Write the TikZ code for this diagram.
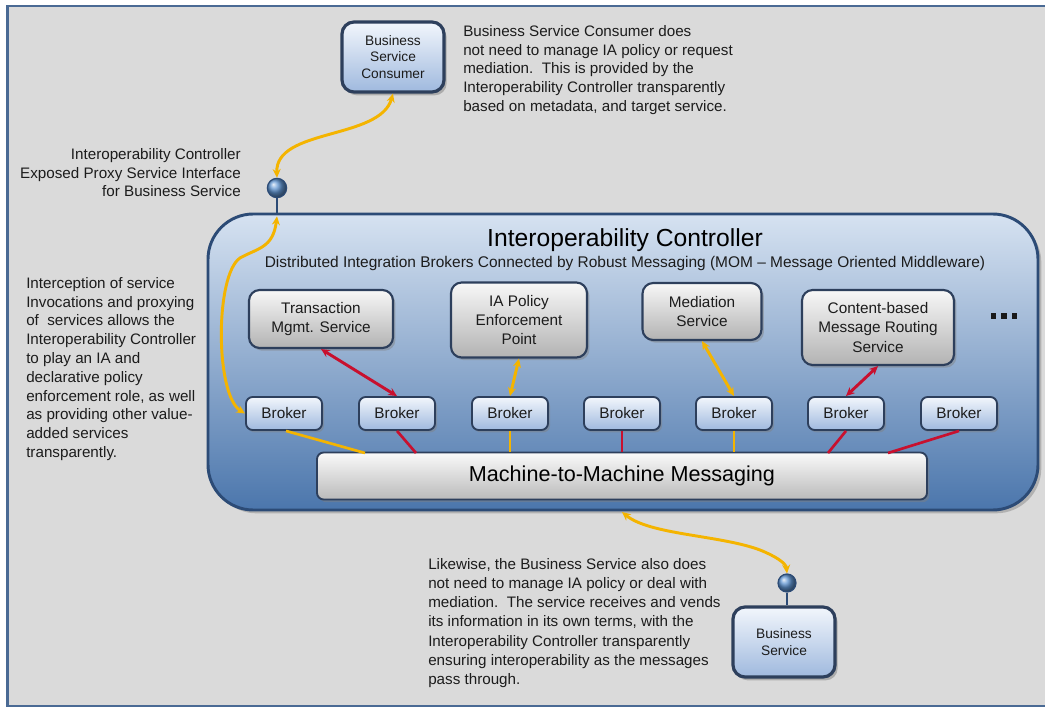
\documentclass[tikz,border=0pt]{standalone}
\usepackage{fontspec}
\setmainfont{Liberation Sans}
\usetikzlibrary{arrows.meta,shadows}

\definecolor{pagebg}{HTML}{DADADA}
\definecolor{framec}{HTML}{4A6A94}
\definecolor{ctrltop}{HTML}{D6E2F1}
\definecolor{ctrlmid}{HTML}{8FAFD8}
\definecolor{ctrlbot}{HTML}{4B76AC}
\definecolor{ctrledge}{HTML}{2C4B76}
\definecolor{boxedge}{HTML}{2D3F5C}
\definecolor{bluetop}{HTML}{F2F6FC}
\definecolor{bluebot}{HTML}{9FB9DE}
\definecolor{portc}{HTML}{6095D2}
\definecolor{flowy}{HTML}{F4B400}
\definecolor{flowr}{HTML}{C8102E}
\definecolor{inktext}{HTML}{1C1C1C}

\tikzset{
  body/.style={font=\fontsize{11.4}{14.1}\selectfont, text=inktext, inner sep=0pt, align=left},
  ctrlbox/.style={draw=ctrledge, line width=2.2pt, rounded corners=34pt,
    top color=ctrltop, middle color=ctrlmid, bottom color=ctrlbot,
    minimum width=622.5pt, minimum height=222pt,
    drop shadow={opacity=0.45, shadow xshift=2.5pt, shadow yshift=-2.5pt}},
  svc/.style={draw=boxedge, line width=1.6pt, rounded corners=8pt,
    top color=white!97!black, bottom color=black!30,
    drop shadow={opacity=0.45, shadow xshift=1.8pt, shadow yshift=-2pt},
    align=center, inner sep=2pt, font=\fontsize{11.5}{14.3}\selectfont, text=inktext},
  broker/.style={draw=boxedge, line width=1.4pt, rounded corners=5pt,
    top color=bluetop, bottom color=bluebot,
    drop shadow={opacity=0.45, shadow xshift=1.5pt, shadow yshift=-1.8pt},
    minimum width=57pt, minimum height=24.75pt, inner sep=1pt,
    font=\fontsize{11.5}{14}\selectfont, text=inktext},
  party/.style={draw=boxedge, line width=2.4pt, rounded corners=9pt,
    top color=bluetop, bottom color=bluebot,
    drop shadow={opacity=0.5, shadow xshift=2pt, shadow yshift=-2.5pt},
    minimum width=76.5pt, minimum height=52.5pt, align=center, inner sep=1pt,
    font=\fontsize{10.3}{12.4}\selectfont, text=inktext},
  busbar/.style={draw=boxedge, line width=1.4pt, rounded corners=5pt,
    top color=white!98!black, bottom color=black!27,
    drop shadow={opacity=0.45, shadow xshift=1.8pt, shadow yshift=-2pt},
    minimum width=457.5pt, minimum height=35.25pt,
    font=\fontsize{16.2}{18}\selectfont, text=black},
  port/.style={circle, draw=ctrledge, line width=0.9pt, ball color=portc, inner sep=0pt},
  stem/.style={draw=ctrledge, line width=1.6pt},
  twoway/.style={line width=2.2pt, {Stealth[length=6.5pt,width=6pt]}-{Stealth[length=6.5pt,width=6pt]}},
  tie/.style={line width=2pt}
}

\newcommand\sqdot{\rule{3.8pt}{3.8pt}}

\begin{document}
\begin{tikzpicture}[x=0.75pt,y=-0.75pt]
\clip (0,0) rectangle (1045,709);
\fill[white] (0,0) rectangle (1045,709);
\draw[framec, line width=2.2pt, fill=pagebg] (7.5,6) rectangle (1070,706);

% controller body
\node[ctrlbox] (ctrl) at (623,362) {};
\node[font=\fontsize{18.5}{20}\selectfont, text=black] (ttl) at (625,240) {Interoperability Controller};
\node[font=\fontsize{11.6}{13}\selectfont, text=inktext] (sub) at (625,264)
  {Distributed Integration Brokers Connected by Robust Messaging (MOM – Message Oriented Middleware)};

% value-added services
\node[svc, minimum width=108pt, minimum height=43.5pt] (tms) at (321,319) {Transaction\\Mgmt. Service};
\node[svc, minimum width=102pt, minimum height=56.25pt] (iap) at (519,320) {IA Policy\\Enforcement\\Point};
\node[svc, minimum width=89.25pt, minimum height=42.75pt] (med) at (702,311.5) {Mediation\\Service};
\node[svc, minimum width=114pt, minimum height=56.25pt] (cmr) at (878,327.5) {Content-based\\Message Routing\\Service};
\node[inner sep=0pt, text=black!90] (more) at (1004,316) {\sqdot\hspace{4.4pt}\sqdot\hspace{4.4pt}\sqdot};

% brokers
\node[broker] (b1) at (284,413.5) {Broker};
\node[broker] (b2) at (397,413.5) {Broker};
\node[broker] (b3) at (510,413.5) {Broker};
\node[broker] (b4) at (622,413.5) {Broker};
\node[broker] (b5) at (734,413.5) {Broker};
\node[broker] (b6) at (846,413.5) {Broker};
\node[broker] (b7) at (959,413.5) {Broker};

% messaging bus
\node[busbar] (bar) at (622,476) {Machine-to-Machine Messaging};

% bus attachment points
\coordinate (m1) at (365,453);
\coordinate (m2) at (416,453);
\coordinate (m6) at (828,453);
\coordinate (m7) at (888,453);

\draw[tie, flowy] ([xshift=1.5pt]b1.south) -- (m1);
\draw[tie, flowr] (b2.south) -- (m2);
\draw[tie, flowy] (b3.south) -- (b3.south |- bar.north);
\draw[tie, flowr] (b4.south) -- (b4.south |- bar.north);
\draw[tie, flowy] (b5.south) -- (b5.south |- bar.north);
\draw[tie, flowr] (b6.south) -- (m6);
\draw[tie, flowr] (b7.south) -- (m7);

% service to broker exchanges
\draw[twoway, flowr] (tms.south) -- (b2.north);
\draw[twoway, flowy] (iap.south) -- (b3.north);
\draw[twoway, flowy] (med.south) -- (b5.north);
\draw[twoway, flowr] (cmr.south) -- (b6.north);

% consumer side
\node[party] (cons) at (393,57) {Business\\Service\\Consumer};
\node[port, minimum size=14.5pt] (p1) at (277,188) {};
\coordinate (p1base) at (277,215);
\draw[stem] (p1.south) -- (p1base);
\draw[twoway, flowy] (cons.south) .. controls (380,140) and (275,128) .. (p1.north);
\draw[twoway, flowy] ([yshift=-1pt]p1base) .. controls (273,248) and (258,248) .. (240,258)
  .. controls (215,275) and (215,395) .. (b1.west);

% provider side
\node[party] (bsvc) at (784,642) {Business\\Service};
\node[port, minimum size=13.5pt] (p2) at (787,583) {};
\draw[stem] (p2.south) -- (p2.south |- bsvc.north);
\coordinate (pout) at (622,512);
\draw[twoway, flowy] (pout) .. controls (650,535) and (720,535) .. (760,550)
  .. controls (775,556) and (786,563) .. (p2.north);

% annotations
\node[body, anchor=north west] (note1) at (463,25) {Business Service Consumer does\\not need to manage IA policy or request\\mediation.\ \ This is provided by the\\Interoperability Controller transparently\\based on metadata, and target service.};
\node[body, anchor=north east, align=right] (note2) at (241,148) {Interoperability Controller\\Exposed Proxy Service Interface\\for Business Service};
\node[body, anchor=north west] (note3) at (26,277) {Interception of service\\Invocations and proxying\\of\ \ services allows the\\Interoperability Controller\\to play an IA and\\declarative policy\\enforcement role, as well\\as providing other value-\\added services\\transparently.};
\node[body, anchor=north west, font=\fontsize{11.4}{14.4}\selectfont] (note4) at (428,558) {Likewise, the Business Service also does\\not need to manage IA policy or deal with\\mediation.\ \ The service receives and vends\\its information in its own terms, with the\\Interoperability Controller transparently\\ensuring interoperability as the messages\\pass through.};
\end{tikzpicture}
\end{document}
